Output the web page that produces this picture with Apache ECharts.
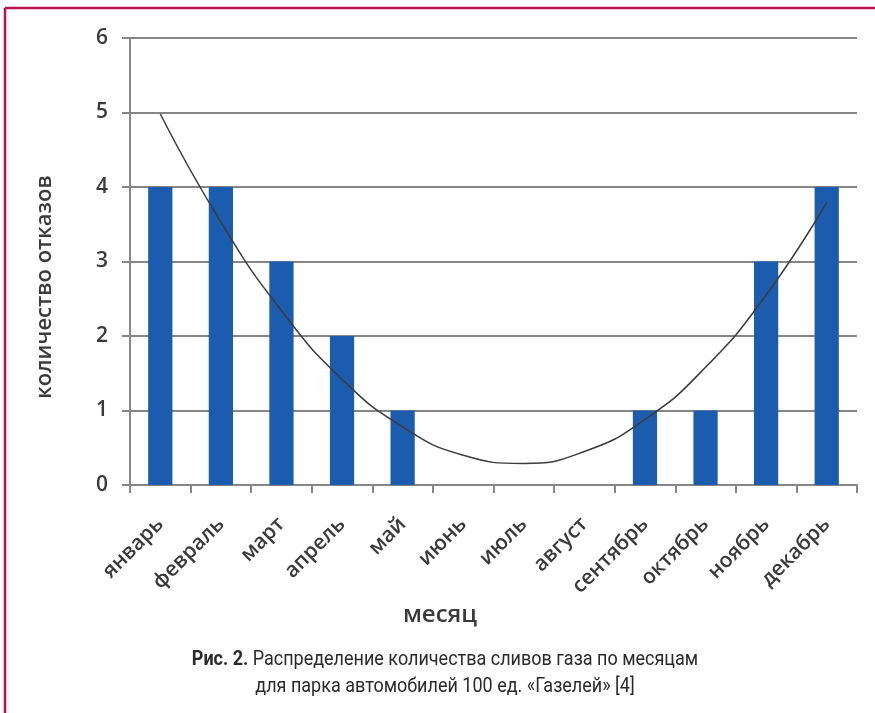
<!DOCTYPE html>
<html>
<head>
<meta charset="utf-8">
<script src="https://cdn.jsdelivr.net/npm/echarts@6/dist/echarts.min.js"></script>
<style>
  html, body { margin: 0; padding: 0; background: #fff; }
  #chart { width: 875px; height: 713px; }
</style>
</head>
<body>
<div id="chart"></div>
<script>
// Months on the category axis
const months = ['январь', 'февраль', 'март', 'апрель', 'май', 'июнь',
                'июль', 'август', 'сентябрь', 'октябрь', 'ноябрь', 'декабрь'];
// Number of failures per month
const failures = [4, 4, 3, 2, 1, 0, 0, 0, 1, 1, 3, 4];
// Trend curve (polynomial) values at each month
const trend = [4.98, 3.53, 2.34, 1.42, 0.78, 0.40, 0.29, 0.45, 0.88, 1.58, 2.55, 3.79];
// Value axis ticks
const yTicks = [0, 1, 2, 3, 4, 5, 6];

const gridColor = '#868686';
const labelFont = '"Open Sans", "DejaVu Sans", sans-serif';

const chart = echarts.init(document.getElementById('chart'), null, { renderer: 'canvas' });
chart.setOption({
  animation: false,
  backgroundColor: '#ffffff',
  grid: { left: 130, right: 18, top: 38, bottom: 228 },
  xAxis: {
    type: 'category',
    data: months,
    boundaryGap: true,
    axisLine: { show: true, lineStyle: { color: gridColor, width: 2 } },
    axisTick: { show: true, interval: 0, length: 8, lineStyle: { color: gridColor, width: 2 } },
    axisLabel: {
      interval: 0, rotate: 45, margin: 36,
      fontFamily: labelFont, fontSize: 21, fontWeight: 600, color: '#3a3a3a'
    }
  },
  yAxis: {
    type: 'value',
    min: yTicks[0], max: yTicks[yTicks.length - 1], interval: 1,
    axisLine: { show: true, lineStyle: { color: gridColor, width: 2 } },
    axisTick: { show: true, length: 8, lineStyle: { color: gridColor, width: 2 } },
    splitLine: { show: true, lineStyle: { color: gridColor, width: 2 } },
    axisLabel: {
      margin: 22,
      fontFamily: labelFont, fontSize: 21, fontWeight: 600, color: '#3a3a3a'
    }
  },
  series: [
    {
      type: 'bar',
      data: failures,
      barWidth: '40%',
      itemStyle: { color: '#1b5cae' }
    },
    {
      type: 'line',
      data: trend,
      smooth: true,
      symbol: 'none',
      lineStyle: { color: '#3c3c3c', width: 1.5 },
      z: 5
    }
  ],
  graphic: [
    // frame edges (top and left)
    { type: 'line', shape: { x1: 5, y1: 8, x2: 875, y2: 8 }, style: { stroke: '#b8124f', lineWidth: 2.5 } },
    { type: 'line', shape: { x1: 5, y1: 8, x2: 5, y2: 713 }, style: { stroke: '#b8124f', lineWidth: 2.5 } },
    // value axis title
    {
      type: 'text', x: 45, y: 287, rotation: Math.PI / 2,
      style: {
        text: 'количество отказов', align: 'center', verticalAlign: 'middle',
        font: '600 22px "Open Sans", sans-serif', fill: '#3a3a3a'
      }
    },
    // category axis title
    {
      type: 'text', x: 440, y: 615,
      style: {
        text: 'месяц', align: 'center', verticalAlign: 'middle',
        font: '600 24px "Open Sans", sans-serif', fill: '#3a3a3a'
      }
    },
    // caption
    {
      type: 'text', x: 445, y: 660, scaleX: 0.9,
      style: {
        text: '{b|Рис. 2.} Распределение количества сливов газа по месяцам',
        align: 'center', verticalAlign: 'middle',
        font: '20px Roboto, sans-serif', fill: '#2a2a2a',
        rich: { b: { font: 'bold 20px Roboto, sans-serif', fill: '#2a2a2a' } }
      }
    },
    {
      type: 'text', x: 445, y: 687, scaleX: 0.9,
      style: {
        text: 'для парка автомобилей 100 ед. «Газелей» [4]',
        align: 'center', verticalAlign: 'middle',
        font: '20px Roboto, sans-serif', fill: '#2a2a2a'
      }
    }
  ]
});
</script>
</body>
</html>
